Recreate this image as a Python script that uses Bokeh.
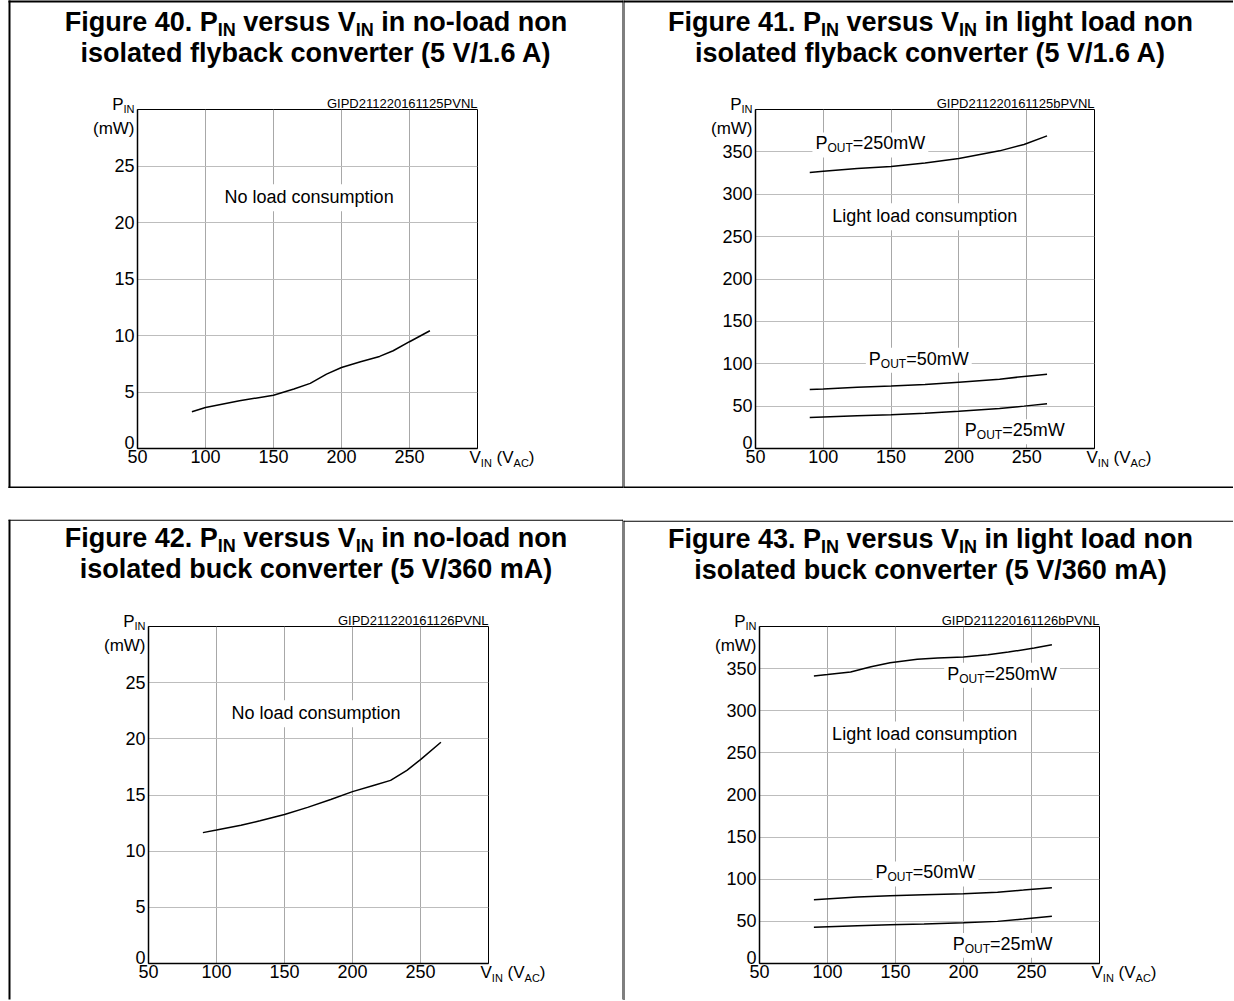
from bokeh.plotting import figure
from bokeh.models import Range1d, BoxAnnotation, FixedTicker
from bokeh.core.properties import value
from bokeh.layouts import column, row
from bokeh.embed import file_html
from bokeh.resources import INLINE

FONT = "Liberation Sans"

# ---------------- data ----------------
x_ticks = [50, 100, 150, 200, 250]
y_ticks_noload = [0, 5, 10, 15, 20, 25]
y_ticks_light = [0, 50, 100, 150, 200, 250, 300, 350]

fig40_vin = [90, 100, 125, 150, 165, 177, 189, 200, 214, 228, 238, 250, 265]
fig40_pin = [3.25, 3.63, 4.22, 4.72, 5.26, 5.76, 6.58, 7.17, 7.68, 8.15, 8.65, 9.45, 10.42]

fig41_vin = [90, 100, 125, 150, 175, 200, 230, 248, 265]
fig41_pin_250 = [325.7, 327.2, 330.4, 332.7, 337.0, 342.2, 351.2, 358.7, 368.9]
fig41_pin_50 = [69.6, 70.3, 72.4, 73.6, 75.5, 78.3, 81.8, 85.0, 87.7]
fig41_pin_25 = [36.6, 37.1, 38.5, 39.7, 41.7, 44.0, 47.2, 50.0, 52.7]

fig42_vin = [90, 100, 118, 132, 150, 167, 184, 200, 216, 228, 240, 250, 265]
fig42_pin = [11.65, 11.88, 12.3, 12.7, 13.27, 13.9, 14.6, 15.3, 15.87, 16.3, 17.2, 18.15, 19.7]

fig43_vin_250 = [90, 100, 117, 132, 146, 166, 181, 200, 218, 233, 252, 265]
fig43_pin_250 = [341.3, 342.9, 346.0, 352.3, 357.0, 361.0, 362.6, 363.7, 366.5, 369.6, 374.4, 378.3]
fig43_vin_low = [90, 122, 146, 171, 200, 225, 244, 265]
fig43_pin_50 = [75.7, 78.8, 80.4, 81.6, 82.8, 84.7, 87.1, 89.9]
fig43_pin_25 = [43.0, 44.9, 46.1, 46.9, 48.5, 50.0, 52.8, 56.0]

titles = {
    40: ("Figure 40.", "in no-load non", "isolated flyback converter (5 V/1.6 A)"),
    41: ("Figure 41.", "in light load non", "isolated flyback converter (5 V/1.6 A)"),
    42: ("Figure 42.", "in no-load non", "isolated buck converter (5 V/360 mA)"),
    43: ("Figure 43.", "in light load non", "isolated buck converter (5 V/360 mA)"),
}
codes = {40: "GIPD211220161125PVNL", 41: "GIPD211220161125bPVNL",
         42: "GIPD211220161126PVNL", 43: "GIPD211220161126bPVNL"}
pout_labels = ["250mW", "50mW", "25mW"]

# ---------------- font metrics (Arial/Liberation Sans, 1/1000 em) ----------------
_p = " ()=.-/0123456789"
REG = dict(zip(_p, [278, 333, 333, 584, 278, 333, 278] + [556] * 10))
REG.update(dict(zip("ABCDEFGHIJKLMNOPQRSTUVWXYZ",
    [667, 667, 722, 722, 667, 611, 778, 722, 278, 500, 667, 556, 833, 722, 778, 667, 778, 722, 667, 611, 722, 667, 944, 667, 667, 611])))
REG.update(dict(zip("abcdefghijklmnopqrstuvwxyz",
    [556, 556, 500, 556, 556, 278, 556, 556, 222, 222, 500, 222, 833, 556, 556, 556, 556, 333, 500, 278, 556, 500, 722, 500, 500, 500])))
BOLD = dict(zip(_p, [278, 333, 333, 584, 278, 333, 278] + [556] * 10))
BOLD.update(dict(zip("ABCDEFGHIJKLMNOPQRSTUVWXYZ",
    [722, 722, 722, 722, 667, 611, 778, 722, 278, 556, 722, 611, 833, 722, 778, 667, 778, 722, 667, 611, 722, 667, 944, 667, 667, 611])))
BOLD.update(dict(zip("abcdefghijklmnopqrstuvwxyz",
    [556, 611, 556, 611, 556, 333, 611, 611, 278, 278, 556, 278, 889, 611, 611, 611, 611, 389, 556, 333, 611, 556, 778, 556, 556, 500])))

BASE_SHIFT = 0.34  # empirical correction of the rendered alphabetic baseline, in em


def tw(s, size, bold=False):
    t = BOLD if bold else REG
    return sum(t.get(c, 556) for c in s) * size / 1000.0


class Panel:
    def __init__(self, W, H, fl, ft, fw, fh, ymax, yticks):
        self.fl, self.ft, self.fw, self.fh = fl, ft, fw, fh
        self.xr = (50, 300)
        self.yr = (0, ymax)
        p = figure(width=W, height=H, x_range=Range1d(50, 300), y_range=Range1d(0, ymax),
                   output_backend="svg", toolbar_location=None,
                   min_border_left=fl, min_border_right=W - fl - fw,
                   min_border_top=ft, min_border_bottom=H - ft - fh)
        p.background_fill_color = "white"
        p.border_fill_color = "white"
        p.outline_line_color = "black"
        p.outline_line_width = 1
        for ax in (p.xaxis[0], p.yaxis[0]):
            ax.major_tick_out = 0
            ax.major_tick_in = 0
            ax.minor_tick_out = 0
            ax.minor_tick_in = 0
            ax.axis_line_color = "black"
            ax.axis_line_width = 1.5
            ax.major_label_text_font = FONT
            ax.major_label_text_font_size = "18px"
            ax.major_label_text_color = "black"
        p.xaxis.ticker = FixedTicker(ticks=x_ticks)
        p.yaxis.ticker = FixedTicker(ticks=yticks)
        p.yaxis.major_label_overrides = {0: " "}
        p.xaxis.major_label_standoff = 1
        p.yaxis.major_label_standoff = 3
        p.xgrid.ticker = FixedTicker(ticks=x_ticks[1:])
        p.ygrid.ticker = FixedTicker(ticks=yticks[1:])
        p.xgrid.grid_line_color = "#a8a8a8"
        p.ygrid.grid_line_color = "#bdbdbd"
        p.grid.grid_line_width = 1
        self.p = p

    def X(self, px):
        return self.xr[0] + (px - self.fl) * (self.xr[1] - self.xr[0]) / self.fw

    def Y(self, py):
        return self.yr[0] + (self.ft + self.fh - py) * (self.yr[1] - self.yr[0]) / self.fh

    def PX(self, x):
        return self.fl + (x - self.xr[0]) * self.fw / (self.xr[1] - self.xr[0])

    def PY(self, y):
        return self.ft + self.fh - (y - self.yr[0]) * self.fh / (self.yr[1] - self.yr[0])

    def rect(self, x0, y0, x1, y1):
        # page-frame line, drawn at overlay level so it is not clipped to the plot frame
        self.p.quad(left=[self.X(x0)], right=[self.X(x1)], top=[self.Y(y0)], bottom=[self.Y(y1)],
                    fill_color="black", line_color=None, level="overlay")

    def white(self, x0, y0, x1, y1):
        self.p.add_layout(BoxAnnotation(left=self.X(x0), right=self.X(x1), top=self.Y(y0), bottom=self.Y(y1),
                                        fill_color="white", fill_alpha=1, line_color=None))

    def label(self, px, py, text, size, bold=False, align="left"):
        py = py - BASE_SHIFT * size
        self.p.text(x=[self.X(px)], y=[self.Y(py)], text=[text], text_font=value(FONT),
                    text_font_size=f"{size}px", text_font_style="bold" if bold else "normal",
                    text_align=align, text_baseline="alphabetic", text_color="black", level="overlay")

    def runs(self, px, base, runs, align="left"):
        total = sum(tw(t, s, b) for t, s, b, dy in runs)
        if align == "center":
            x = px - total / 2
        elif align == "right":
            x = px - total
        else:
            x = px
        for t, s, b, dy in runs:
            lead = len(t) - len(t.lstrip(" "))
            txt = t.strip(" ")
            if txt:
                self.label(x + tw(" " * lead, s, b), base + dy, txt, s, b)
            x += tw(t, s, b)
        return total

    def decorate(self, num, cx, b1, b2):
        fig, tail, line2 = titles[num]
        self.runs(cx, b1, [(fig + " P", 27, True, 0), ("IN", 18, True, 5), (" versus V", 27, True, 0),
                           ("IN", 18, True, 5), (" " + tail, 27, True, 0)], align="center")
        self.label(cx, b2, line2, 27, True, align="center")
        fl, ft, fw, fh = self.fl, self.ft, self.fw, self.fh
        self.runs(fl - 3, ft + 1, [("P", 17, False, 0), ("IN", 11, False, 2)], align="right")
        self.label(fl - 3, ft + 25, "(mW)", 17, False, align="right")
        self.runs(fl + fw - 8, ft + fh + 15, [("V", 17, False, 0), ("IN", 11, False, 3), (" (V", 17, False, 0),
                                              ("AC", 11, False, 3), (")", 17, False, 0)])
        self.label(fl - 3, ft + fh, "0", 18, False, align="right")
        self.label(fl + fw, ft - 1.5, codes[num], 13, False, align="right")

    def note(self, x, y, text):
        px, py = self.PX(x), self.PY(y)
        w = tw(text, 18)
        self.white(px - 4, py - 19, px + w + 4, py + 8)
        self.label(px, py, text, 18)

    def pout(self, x, y, val):
        px, py = self.PX(x), self.PY(y)
        r = [("P", 18, False, 0), ("OUT", 12, False, 3), ("=" + val, 18, False, 0)]
        w = sum(tw(t, s, b) for t, s, b, dy in r)
        self.white(px - 3, py - 17, px + w + 3, py + 8)
        self.runs(px, py, r)


# ---------------- panels (canvas coords = page coords) ----------------
A = Panel(623, 488, 137, 109, 340, 339, 30, y_ticks_noload)
A.p.line(fig40_vin, fig40_pin, line_color="black", line_width=1.5)
A.note(114, 21.7, "No load consumption")
A.decorate(40, 315.5, 31, 62)
A.rect(8, 0, 10, 488); A.rect(8, 0, 623, 2); A.rect(8, 486, 623, 488); A.rect(622, 0, 623, 488)

B = Panel(610, 488, 132, 109, 339, 339, 400, y_ticks_light)
B.p.line(fig41_vin, fig41_pin_250, line_color="black", line_width=1.5)
B.p.line(fig41_vin, fig41_pin_50, line_color="black", line_width=1.5)
B.p.line(fig41_vin, fig41_pin_25, line_color="black", line_width=1.5)
B.pout(94.2, 352.8, pout_labels[0])
B.note(106.6, 267, "Light load consumption")
B.pout(133.6, 98.8, pout_labels[1])
B.pout(204.4, 14.5, pout_labels[2])
B.decorate(41, 307, 31, 62)
B.rect(0, 0, 1, 488); B.rect(0, 0, 610, 2); B.rect(0, 486, 610, 488)

C = Panel(623, 512, 148, 138, 340, 338, 30, y_ticks_noload)
C.p.line(fig42_vin, fig42_pin, line_color="black", line_width=1.5)
C.note(111, 21.75, "No load consumption")
C.decorate(42, 315.5, 58, 90)
C.rect(8, 31, 623, 32); C.rect(8, 31, 10, 512); C.rect(622, 31, 623, 512)

D = Panel(610, 512, 136, 137, 340, 338, 400, y_ticks_light)
D.p.line(fig43_vin_250, fig43_pin_250, line_color="black", line_width=1.5)
D.p.line(fig43_vin_low, fig43_pin_50, line_color="black", line_width=1.5)
D.p.line(fig43_vin_low, fig43_pin_25, line_color="black", line_width=1.5)
D.pout(188, 336.9, pout_labels[0])
D.note(103.4, 264.7, "Light load consumption")
D.pout(135.3, 101, pout_labels[1])
D.pout(192.1, 16.2, pout_labels[2])
D.decorate(43, 307, 58, 90)
D.rect(0, 31, 610, 32); D.rect(0, 31, 1, 512)

layout = column(row(A.p, B.p), row(C.p, D.p))
open("out.html", "w").write(file_html(layout, INLINE))
